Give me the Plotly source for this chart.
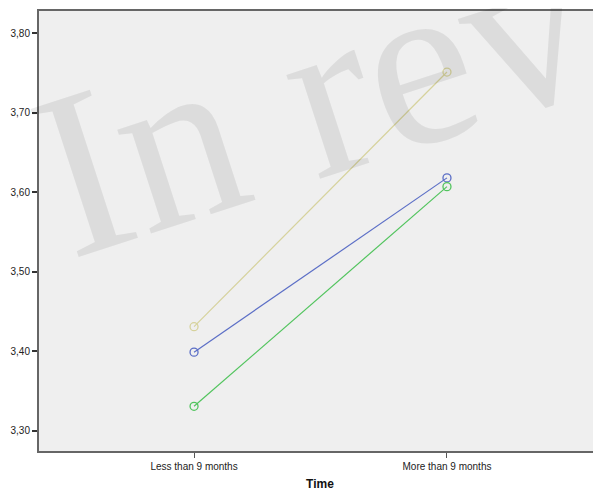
import plotly.graph_objects as go

categories = ["Less than 9 months", "More than 9 months"]
series_beige = [3.431, 3.751]
series_blue = [3.399, 3.618]
series_green = [3.331, 3.607]
y_ticks = [3.30, 3.40, 3.50, 3.60, 3.70, 3.80]

colors = {"beige": "#d6d29c", "blue": "#5b6ec6", "green": "#52c45e"}

fig = go.Figure()
for name, vals in [("beige", series_beige), ("blue", series_blue), ("green", series_green)]:
    fig.add_trace(go.Scatter(
        x=[0, 1], y=vals, mode="lines+markers",
        line=dict(color=colors[name], width=1.2),
        marker=dict(symbol="circle-open", size=8, color=colors[name], line=dict(width=1.3)),
        showlegend=False, hoverinfo="skip"))

fig.add_annotation(text="In rev", xref="paper", yref="paper", x=0.487, y=1.292,
                   showarrow=False, textangle=-18,
                   font=dict(family="Liberation Serif", size=238, color="rgba(0,0,0,0.08)"))

fig.update_layout(
    width=593, height=483,
    margin=dict(l=31, r=0, t=3, b=40),
    paper_bgcolor="white", plot_bgcolor="#efefef",
    separators=",.",
    font=dict(family="Liberation Sans, Arial", size=10, color="#222"),
    xaxis=dict(range=[-0.613, 1.609], tickvals=[0, 1], ticktext=categories,
               automargin=False,
               showgrid=False, zeroline=False, showline=True, mirror=True,
               linecolor="#666", linewidth=2, ticks="outside", ticklen=5,
               tickcolor="#555", tickwidth=1,
               title=dict(text="<b>Time</b>", font=dict(size=12, color="#111"), standoff=13)),
    yaxis=dict(range=[3.2748, 3.8277], tickvals=y_ticks, tickformat=".2f",
               automargin=False,
               showgrid=False, zeroline=False, showline=True,
               linecolor="#666", linewidth=2, ticks="outside", ticklen=5,
               tickcolor="#333", tickwidth=2),
)
fig.write_html("out.html")
